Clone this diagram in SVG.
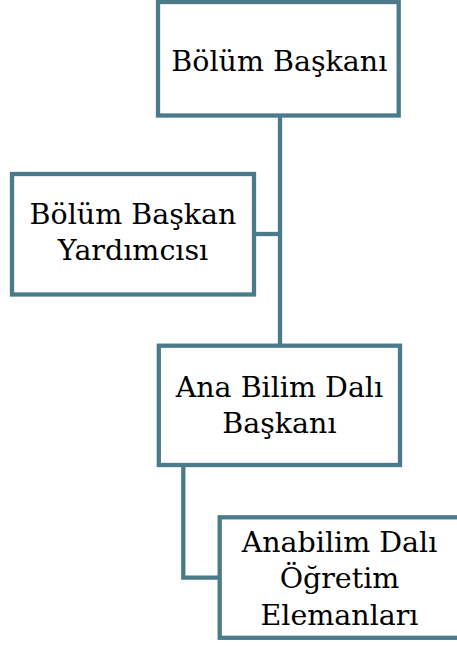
<svg xmlns="http://www.w3.org/2000/svg" width="457" height="646" viewBox="0 0 457 646">
<style>
.box{fill:#ffffff;stroke:#4b7b8b;stroke-width:4.3}
.conn{fill:none;stroke:#4b7b8b;stroke-width:4.3}
.t{font-family:"DejaVu Serif","Liberation Serif",serif;font-size:28.5px;fill:#000000;text-anchor:middle}
</style>
<rect width="457" height="646" fill="#ffffff"/>
<g id="connectors">
<path class="conn" d="M280,117 V345"/>
<path class="conn" d="M256,234 H280"/>
<path class="conn" d="M183.3,467 V577.7 H219"/>
</g>
<g id="node-bolum-baskani">
<rect class="box" x="158" y="2" width="240.7" height="113.5"/>
<text class="t" x="279.3" y="70.7">Bölüm Başkanı</text>
</g>
<g id="node-bolum-baskan-yardimcisi">
<rect class="box" x="12" y="174" width="242" height="120.5"/>
<text class="t" x="133" y="224.3">Bölüm Başkan</text>
<text class="t" x="133" y="260">Yardımcısı</text>
</g>
<g id="node-ana-bilim-dali-baskani">
<rect class="box" x="158.8" y="345.7" width="241.2" height="119.3"/>
<text class="t" x="279.4" y="396.7">Ana Bilim Dalı</text>
<text class="t" x="279.4" y="433.3">Başkanı</text>
</g>
<g id="node-anabilim-dali-ogretim-elemanlari">
<rect class="box" x="219.7" y="517.3" width="239.6" height="120.5"/>
<text class="t" x="339.5" y="551.7">Anabilim Dalı</text>
<text class="t" x="339.5" y="588.3">Öğretim</text>
<text class="t" x="339.5" y="625">Elemanları</text>
</g>
</svg>
